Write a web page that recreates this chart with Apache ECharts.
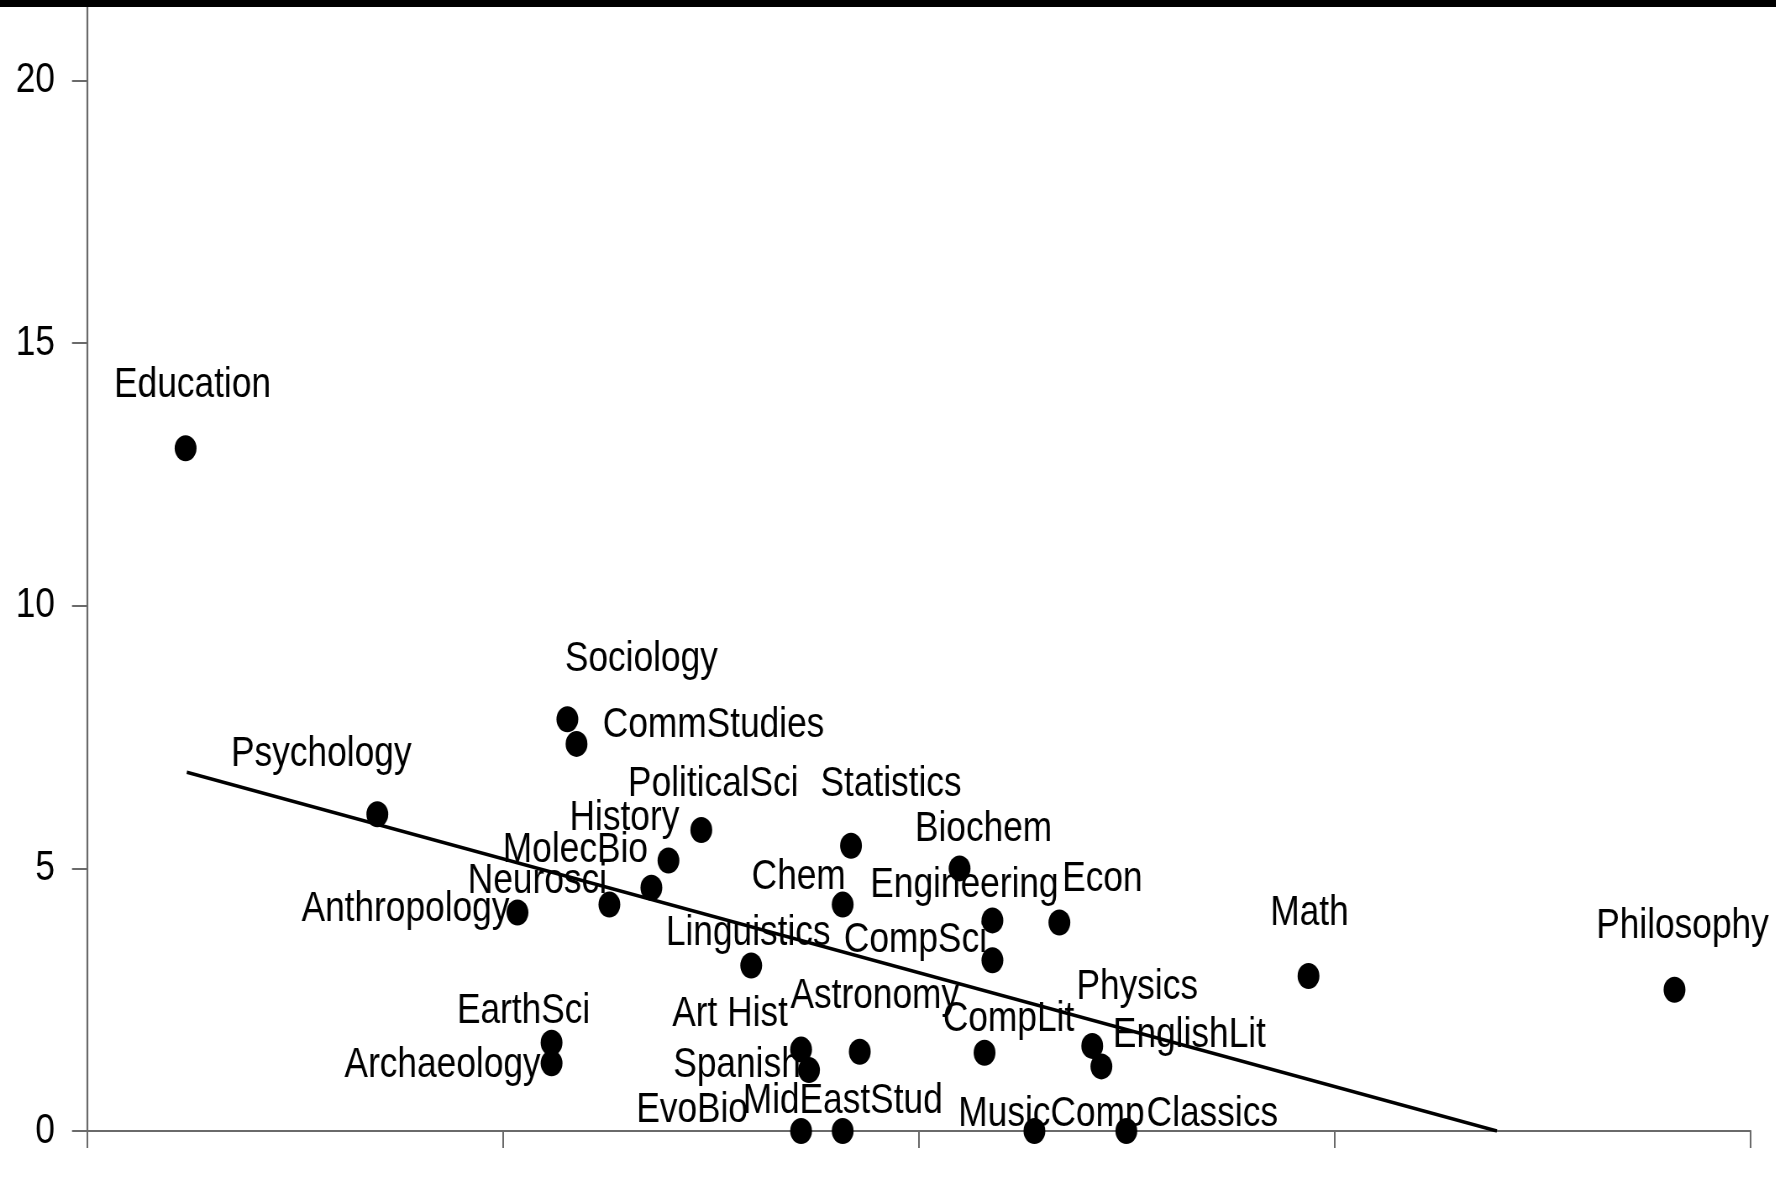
<!DOCTYPE html>
<html>
<head>
<meta charset="utf-8">
<script src="https://cdn.jsdelivr.net/npm/echarts@6/dist/echarts.min.js"></script>
<style>
  html, body { margin: 0; padding: 0; background: #fff; overflow: hidden; }
  /* The chart is drawn wide and squeezed horizontally to get the
     narrow lettering and upright-oval dots of a condensed layout. */
  #chart { width: 2115px; height: 1177px; transform: scaleX(0.84); transform-origin: 0 0; }
</style>
</head>
<body>
<div id="chart"></div>
<script>
// Fields of study, in drawing order
const fields = [
  'Education', 'Psychology', 'Anthropology', 'Neurosci', 'MolecBio', 'History',
  'PoliticalSci', 'Sociology', 'CommStudies', 'EarthSci', 'Archaeology', 'Linguistics',
  'Statistics', 'Chem', 'Biochem', 'Engineering', 'CompSci', 'Econ', 'Math', 'Philosophy',
  'Art Hist', 'Spanish', 'Astronomy', 'CompLit', 'Physics', 'EnglishLit',
  'EvoBio', 'MidEastStud', 'MusicComp', 'Classics'
];

// Horizontal position of each field
const xValues = [
  0.237, 0.698, 1.035, 1.256, 1.357, 1.398,
  1.477, 1.155, 1.177, 1.117, 1.117, 1.597,
  1.837, 1.817, 2.098, 2.177, 2.177, 2.338, 2.937, 3.817,
  1.717, 1.736, 1.858, 2.158, 2.417, 2.439,
  1.717, 1.817, 2.278, 2.499
];

// Vertical value of each field
const yValues = [
  13.0, 6.03, 4.16, 4.31, 4.63, 5.15,
  5.73, 7.84, 7.37, 1.68, 1.29, 3.15,
  5.43, 4.31, 5.0, 4.01, 3.25, 3.97, 2.95, 2.69,
  1.55, 1.16, 1.51, 1.49, 1.62, 1.23,
  0, 0, 0, 0
];

// Y-axis tick values
const yTicks = [0, 5, 10, 15, 20];
// X-axis tick values (unlabelled)
const xTicks = [0, 1, 2, 3, 4];

// Fitted trend line, start and end points
const fitStart = [0.24, 6.83];
const fitEnd = [3.39, 0];

// Label placement: on-screen pixel offset of each label's centre from its point
const labelOffsets = {
  'Education': [7, -63], 'Psychology': [-56, -60], 'Sociology': [74, -60],
  'CommStudies': [137, -18], 'PoliticalSci': [12, -46], 'Statistics': [40, -61],
  'History': [-44, -42], 'MolecBio': [-76, -37], 'Biochem': [24, -39],
  'Neurosci': [-72, -23], 'Chem': [-44, -27], 'Engineering': [-28, -35],
  'Econ': [43, -43], 'Anthropology': [-112, -3], 'Math': [1, -63],
  'Philosophy': [8, -63], 'Linguistics': [-3, -32], 'CompSci': [-77, -20],
  'Physics': [45, -58], 'Astronomy': [15, -55], 'EarthSci': [-28, -31],
  'Art Hist': [-71, -35], 'CompLit': [24, -33], 'EnglishLit': [88, -31],
  'Archaeology': [-109, 2], 'Spanish': [-72, -5], 'EvoBio': [-109, -21],
  'MidEastStud': [0, -30], 'MusicComp': [17, -17], 'Classics': [86, -17]
};

const SQUEEZE = 0.84;                 // horizontal squeeze applied by the CSS transform
const sx = v => v / SQUEEZE;          // on-screen horizontal px -> chart px
const FONT = "'Liberation Sans', Arial, Helvetica, sans-serif";
const FONT_SIZE = 42;
const AXIS_COLOR = '#6a6a6a';

const points = fields.map((name, i) => {
  const off = labelOffsets[name] || [0, -40];
  return {
    name: name,
    value: [xValues[i], yValues[i]],
    label: { offset: [sx(off[0]), off[1]] }
  };
});

const chart = echarts.init(document.getElementById('chart'), null, { renderer: 'canvas' });

chart.setOption({
  backgroundColor: '#ffffff',
  animation: false,
  grid: { left: sx(87), right: sx(26), top: 7, bottom: 46, containLabel: false },
  xAxis: {
    type: 'value',
    min: xTicks[0],
    max: xTicks[xTicks.length - 1],
    interval: 1,
    axisLine: { show: true, lineStyle: { color: AXIS_COLOR, width: 2 } },
    axisTick: { show: true, length: 17, lineStyle: { color: AXIS_COLOR, width: 2 } },
    axisLabel: { show: false },
    splitLine: { show: false }
  },
  yAxis: {
    type: 'value',
    min: 0,
    max: 21.4,
    interval: 5,
    axisLine: { show: true, lineStyle: { color: AXIS_COLOR, width: 2.2 } },
    axisTick: { show: true, length: sx(15), customValues: yTicks, lineStyle: { color: AXIS_COLOR, width: 2 } },
    axisLabel: {
      show: true,
      customValues: yTicks,
      margin: sx(32),
      color: '#000',
      fontSize: FONT_SIZE,
      fontFamily: FONT
    },
    splitLine: { show: false }
  },
  graphic: [{
    type: 'rect',
    left: 0, top: 0,
    shape: { width: 2115, height: 7 },
    style: { fill: '#000' },
    z: 100
  }],
  series: [
    {
      type: 'line',
      data: [fitStart, fitEnd],
      symbol: 'none',
      clip: true,
      lineStyle: { color: '#000', width: 3.5 },
      z: 3,
      silent: true
    },
    {
      type: 'scatter',
      data: points,
      symbol: 'circle',
      symbolSize: 26,
      itemStyle: { color: '#000', opacity: 1 },
      label: {
        show: true,
        position: 'inside',
        formatter: '{b}',
        color: '#000',
        opacity: 1,
        fontSize: FONT_SIZE,
        fontFamily: FONT,
        align: 'center',
        verticalAlign: 'middle'
      },
      z: 4
    }
  ]
});
</script>
</body>
</html>
